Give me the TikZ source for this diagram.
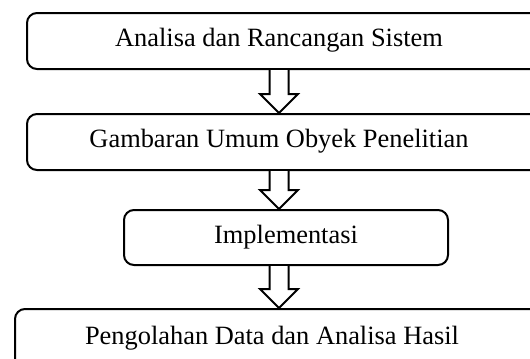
\documentclass[tikz,border=0pt]{standalone}
\usepackage{fontspec}
\setmainfont{Liberation Serif}
\usetikzlibrary{calc}
\begin{document}
\begin{tikzpicture}[x=1bp,y=-1bp,
  stagebox/.style={draw=black, line width=2bp, rounded corners=10bp, inner sep=0pt, anchor=north west},
  stagetext/.style={inner sep=0pt, font=\fontsize{26.5}{30}\selectfont},
  blockarrow/.style={draw=black, fill=white, line width=2bp, line join=miter}]
\useasboundingbox (0,0) rectangle (530,358);
\begin{scope}
\clip (0,0) rectangle (530,358);
% boxes
\node[stagebox, minimum width=620bp, minimum height=56bp] (b1) at (26,12) {};
\node[stagebox, minimum width=620bp, minimum height=56bp] (b2) at (26,113) {};
\node[stagebox, minimum width=324bp, minimum height=55bp] (b3) at (123,209) {};
\node[stagebox, minimum width=620bp, minimum height=90bp] (b4) at (14,308) {};
\end{scope}
% texts
\node[stagetext] (t1) at (279,40) {Analisa dan Rancangan Sistem};
\node[stagetext] (t2) at (279,141) {Gambaran Umum Obyek Penelitian};
\node[stagetext] (t3) at (b3.center) {Implementasi};
\node[stagetext] (t4) at (272,338) {Pengolahan Data dan Analisa Hasil};
% arrows
\foreach \s/\e in {b1/b2,b2/b3,b3/b4}{
  \draw[blockarrow] let \p1=($(t1 |- \s.south)$), \p2=($(t1 |- \e.north)$) in
    (\x1-9.5bp,\y1) -- (\x1-9.5bp,\y2+19bp) -- (\x1-19bp,\y2+19bp) -- (\x1,\y2)
    -- (\x1+19bp,\y2+19bp) -- (\x1+9.5bp,\y2+19bp) -- (\x1+9.5bp,\y1);
}
\end{tikzpicture}
\end{document}
